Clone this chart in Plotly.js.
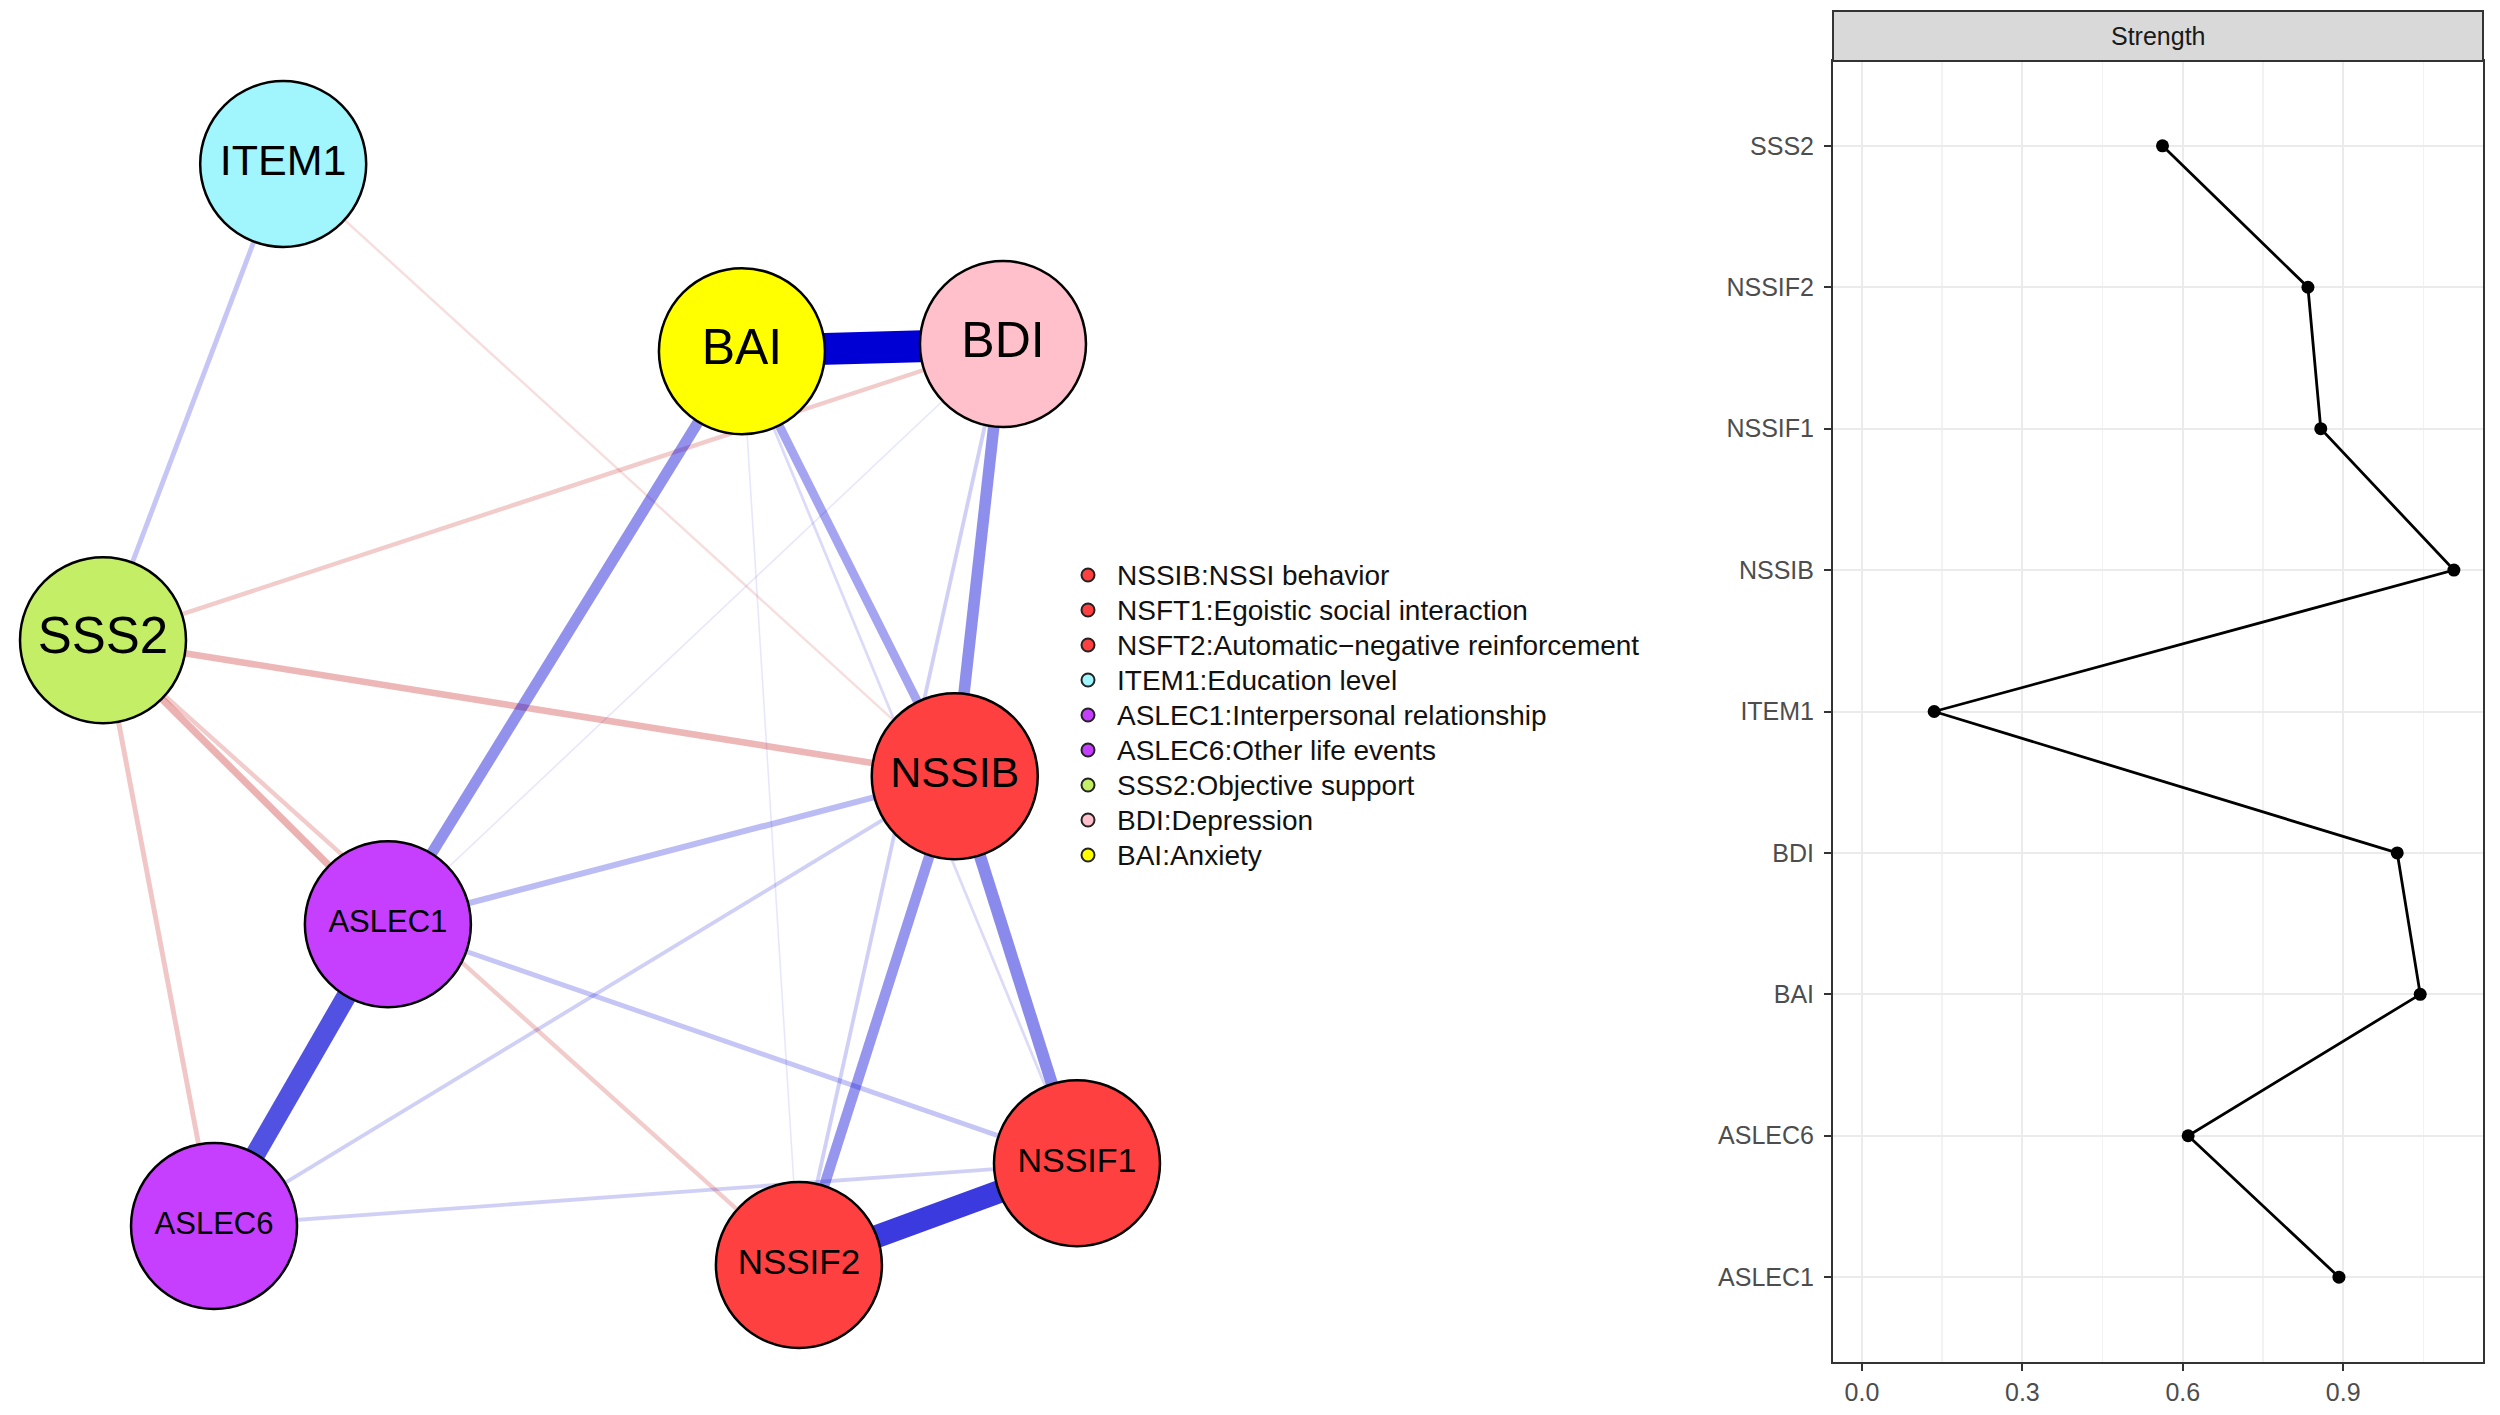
<!DOCTYPE html>
<html>
<head>
<meta charset="utf-8">
<script src="https://cdn.plot.ly/plotly-3.0.1.min.js"></script>
<style>html,body{margin:0;padding:0;background:#fff;}#chart{width:2500px;height:1415px;}</style>
</head>
<body>
<div id="chart"></div>
<script>
// ---------- DATA ----------
// Network nodes (layout coordinates, qgraph-like, normalised to [-1, 1])
const nodeNames = ['ITEM1', 'BAI', 'BDI', 'SSS2', 'NSSIB', 'ASLEC1', 'ASLEC6', 'NSSIF2', 'NSSIF1'];
const nodeX = [-0.630, 0.312, 0.848, -1.000, 0.749, -0.415, -0.772, 0.429, 1.000];
const nodeY = [1.000, 0.660, 0.673, 0.135, -0.112, -0.381, -0.929, -1.000, -0.815];

// Network edges (partial correlations; sign = colour)
const edgeFrom = ['BAI', 'NSSIF1', 'ASLEC1', 'BDI', 'NSSIB', 'NSSIB', 'BAI', 'BAI', 'SSS2', 'SSS2', 'ASLEC1',
  'ITEM1', 'ASLEC1', 'SSS2', 'SSS2', 'SSS2', 'BDI', 'ASLEC6', 'ASLEC6', 'BAI', 'ITEM1', 'ASLEC1', 'BAI'];
const edgeTo = ['BDI', 'NSSIF2', 'ASLEC6', 'NSSIB', 'NSSIF1', 'NSSIF2', 'ASLEC1', 'NSSIB', 'ASLEC1', 'NSSIB', 'NSSIB',
  'SSS2', 'NSSIF1', 'NSSIF2', 'BDI', 'ASLEC6', 'NSSIF2', 'NSSIB', 'NSSIF1', 'NSSIF1', 'NSSIB', 'BDI', 'NSSIF2'];
const edgeWeight = [0.58, 0.42, 0.36, 0.21, 0.22, 0.19, 0.20, 0.16, -0.13, -0.12, 0.11,
  0.09, 0.09, -0.08, -0.08, -0.09, 0.07, 0.07, 0.07, 0.05, -0.045, 0.03, 0.03];

// Legend entries
const legendLabels = ['NSSIB:NSSI behavior', 'NSFT1:Egoistic social interaction',
  'NSFT2:Automatic\u2212negative reinforcement', 'ITEM1:Education level',
  'ASLEC1:Interpersonal relationship', 'ASLEC6:Other life events',
  'SSS2:Objective support', 'BDI:Depression', 'BAI:Anxiety'];
const legendGroup = ['NSSI', 'NSSI', 'NSSI', 'ITEM', 'ASLEC', 'ASLEC', 'SSS', 'BDI', 'BAI'];

// Strength centrality
const strengthVars = ['SSS2', 'NSSIF2', 'NSSIF1', 'NSSIB', 'ITEM1', 'BDI', 'BAI', 'ASLEC6', 'ASLEC1'];
const strengthVals = [0.562, 0.834, 0.858, 1.107, 0.135, 1.001, 1.044, 0.610, 0.892];
const strengthTicks = [0.0, 0.3, 0.6, 0.9];

// ---------- STYLE ----------
const groupColor = {NSSI: '#FF4040', ITEM: '#A0F6FC', ASLEC: '#C63FFF', SSS: '#C3EE66', BDI: '#FFC0CB', BAI: '#FFFF00'};
const nodeGroup = {ITEM1: 'ITEM', BAI: 'BAI', BDI: 'BDI', SSS2: 'SSS', NSSIB: 'NSSI', ASLEC1: 'ASLEC', ASLEC6: 'ASLEC', NSSIF2: 'NSSI', NSSIF1: 'NSSI'};
const labelSize = {ITEM1: 43, BAI: 50, BDI: 50, SSS2: 51, NSSIB: 43, ASLEC1: 31, ASLEC6: 31, NSSIF2: 35, NSSIF1: 34};
const FONT = 'Liberation Sans, Arial, Helvetica, sans-serif';
const maxW = Math.max(...edgeWeight.map(Math.abs));

const traces = [];
// edges sorted by absolute weight (weak first)
const order = edgeWeight.map((w, i) => i).sort((a, b) => Math.abs(edgeWeight[a]) - Math.abs(edgeWeight[b]));
order.forEach(i => {
  const a = nodeNames.indexOf(edgeFrom[i]);
  const b = nodeNames.indexOf(edgeTo[i]);
  const w = edgeWeight[i];
  const alpha = Math.min(1, Math.pow(Math.abs(w) / maxW, 0.8));
  const col = w > 0 ? `rgba(0,0,213,${alpha.toFixed(3)})` : `rgba(191,0,0,${alpha.toFixed(3)})`;
  traces.push({
    type: 'scatter', mode: 'lines', xaxis: 'x', yaxis: 'y',
    x: [nodeX[a], nodeX[b]], y: [nodeY[a], nodeY[b]],
    line: {color: col, width: 55 * Math.abs(w)},
    hoverinfo: 'skip', showlegend: false
  });
});
// nodes
traces.push({
  type: 'scatter', mode: 'markers+text', xaxis: 'x', yaxis: 'y',
  x: nodeX, y: nodeY, text: nodeNames, textposition: 'middle center',
  textfont: {family: FONT, color: '#000', size: nodeNames.map(n => labelSize[n])},
  marker: {size: 166, color: nodeNames.map(n => groupColor[nodeGroup[n]]), line: {color: '#000', width: 2.5}, opacity: 1},
  cliponaxis: false, hoverinfo: 'text', showlegend: false
});
// legend markers
traces.push({
  type: 'scatter', mode: 'markers', xaxis: 'x3', yaxis: 'y3',
  x: legendLabels.map(() => 0), y: legendLabels.map((l, i) => i),
  marker: {size: 13, color: legendGroup.map(g => groupColor[g]), line: {color: '#222', width: 2}},
  cliponaxis: false, hoverinfo: 'skip', showlegend: false
});
// strength line
traces.push({
  type: 'scatter', mode: 'lines+markers', xaxis: 'x2', yaxis: 'y2',
  x: strengthVals, y: strengthVars,
  line: {color: '#000', width: 2.8},
  marker: {color: '#000', size: 13},
  cliponaxis: false, hoverinfo: 'x+y', showlegend: false
});

const annotations = legendLabels.map((t, i) => ({
  xref: 'x3', yref: 'y3', x: 0, y: i, text: t, showarrow: false,
  xanchor: 'left', yanchor: 'middle', xshift: 27,
  font: {family: FONT, size: 28, color: '#111'}
}));
annotations.push({
  xref: 'x2 domain', yref: 'paper', x: 0.5, y: 1 - 36 / 1415, text: 'Strength', showarrow: false,
  xanchor: 'center', yanchor: 'middle', font: {family: FONT, size: 25, color: '#1A1A1A'}
});

const layout = {
  width: 2500, height: 1415,
  margin: {l: 0, r: 0, t: 0, b: 0},
  paper_bgcolor: '#FFFFFF', plot_bgcolor: 'rgba(0,0,0,0)',
  showlegend: false,
  xaxis: {domain: [0, 1], range: [-1.2115, 3.922], visible: false, fixedrange: true},
  yaxis: {domain: [0, 1], range: [-1.2725, 1.2979], visible: false, fixedrange: true},
  xaxis3: {domain: [1050 / 2500, 1700 / 2500], range: [-38, 612], visible: false},
  yaxis3: {anchor: 'x3', domain: [1 - 890 / 1415, 1 - 540 / 1415], range: [9, -1], visible: false},
  xaxis2: {
    anchor: 'y2', domain: [1833 / 2500, 2483 / 2500], range: [-0.0542, 1.1614],
    tickvals: strengthTicks, ticktext: strengthTicks.map(v => v.toFixed(1)),
    showgrid: true, gridcolor: '#EBEBEB', gridwidth: 2, zeroline: false,
    minor: {tickvals: [0.15, 0.45, 0.75, 1.05], showgrid: true, gridcolor: '#F2F2F2', gridwidth: 1.5, ticks: ''},
    showline: true, linecolor: '#333333', linewidth: 2, mirror: true,
    ticks: 'outside', ticklen: 7, tickwidth: 2, tickcolor: '#333333',
    tickfont: {family: FONT, size: 25, color: '#4D4D4D'}
  },
  yaxis2: {
    anchor: 'x2', domain: [1 - 1362 / 1415, 1 - 61 / 1415],
    type: 'category', categoryorder: 'array', categoryarray: strengthVars.slice().reverse(),
    range: [-0.6, 8.6],
    showgrid: true, gridcolor: '#EBEBEB', gridwidth: 2, zeroline: false,
    showline: true, linecolor: '#333333', linewidth: 2, mirror: true,
    ticks: 'outside', ticklen: 7, tickwidth: 2, tickcolor: '#333333',
    ticklabelstandoff: 5,
    tickfont: {family: FONT, size: 25, color: '#4D4D4D'}
  },
  shapes: [{
    type: 'rect', xref: 'x2 domain', yref: 'paper', x0: 0, x1: 1,
    y0: 1 - 61 / 1415, y1: 1 - 11 / 1415,
    fillcolor: '#D9D9D9', line: {color: '#333333', width: 2}, layer: 'above'
  }],
  annotations: annotations
};

Plotly.newPlot('chart', traces, layout, {staticPlot: true, displayModeBar: false});
</script>
</body>
</html>
